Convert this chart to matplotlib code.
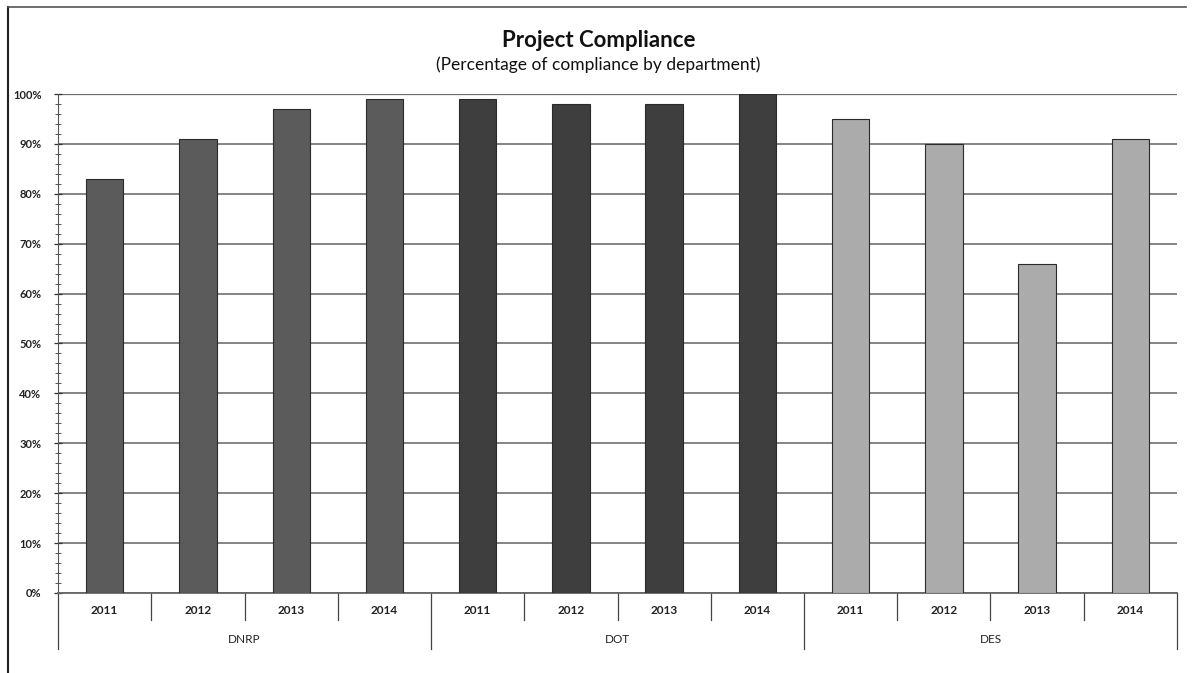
import matplotlib
matplotlib.use("Agg")
import matplotlib.pyplot as plt
import matplotlib.transforms as mtransforms
from matplotlib.ticker import MultipleLocator, FuncFormatter
import numpy as np

departments = ["DNRP", "DOT", "DES"]
years = ["2011", "2012", "2013", "2014"]
dnrp = [83, 91, 97, 99]
dot = [99, 98, 98, 100]
des = [95, 90, 66, 91]
dept_colors = ["#5b5b5b", "#3e3e3e", "#ababab"]

plt.rcParams['font.family'] = ['Lato', 'DejaVu Sans']

fig = plt.figure(figsize=(11.92, 6.73), dpi=100)
ax = fig.add_axes([0.0487, 0.1189, 0.9387, 0.7414])

values = [dnrp, dot, des]
n_years = len(years)
for d, (dept, vals) in enumerate(zip(departments, values)):
    xs = np.arange(n_years) + d * n_years
    ax.bar(xs, vals, width=0.4, color=dept_colors[d], edgecolor="#2a2a2a",
           linewidth=0.8, zorder=3)

n_cat = len(departments) * n_years
ax.set_xlim(-0.5, n_cat - 0.5)
ax.set_ylim(0, 100)
ax.yaxis.set_major_locator(MultipleLocator(10))
ax.yaxis.set_minor_locator(MultipleLocator(2))
ax.yaxis.set_major_formatter(FuncFormatter(lambda v, p: f"{int(v)}%"))
ax.tick_params(axis='y', which='major', direction='inout', length=6, width=0.9,
               labelsize=8, pad=9, colors="#333333")
ax.tick_params(axis='y', which='minor', direction='inout', length=4, width=0.7,
               colors="#555555")
for lbl in ax.get_yticklabels():
    lbl.set_fontweight('bold')
    lbl.set_color("#222222")
ax.set_xticks([])
ax.grid(axis='y', color="#707070", linewidth=1.2, zorder=0)
for s in ['top', 'right']:
    ax.spines[s].set_visible(False)
ax.spines['left'].set_color("#555555")
ax.spines['bottom'].set_color("#666666")
ax.spines['bottom'].set_linewidth(1.3)
ax.axhline(100, color="#555555", linewidth=1.6, zorder=1)

trans = mtransforms.blended_transform_factory(ax.transData, ax.transAxes)
for i in range(n_cat + 1):
    xb = i - 0.5
    if i % n_years == 0:
        ax.plot([xb, xb], [0, -0.112], transform=trans, color="#444444",
                linewidth=0.9, clip_on=False)
    else:
        ax.plot([xb, xb], [0, -0.054], transform=trans, color="#444444",
                linewidth=0.9, clip_on=False)
for i in range(n_cat):
    ax.text(i, -0.036, years[i % n_years], transform=trans, ha='center',
            va='center', fontsize=8.5, fontweight='bold', color="#222222")
for d, dept in enumerate(departments):
    ax.text(d * n_years + (n_years - 1) / 2, -0.094, dept, transform=trans,
            ha='center', va='center', fontsize=8.5, color="#222222")

fig.text(0.502, 0.94, "Project Compliance", ha='center', va='center',
         fontsize=16, fontweight='bold', color="#111111")
fig.text(0.502, 0.904, "(Percentage of compliance by department)", ha='center',
         va='center', fontsize=12.5, color="#111111")

fig.add_artist(plt.Line2D([0.0065, 0.0065], [0, 0.99], color="#222222", linewidth=1.5))
fig.add_artist(plt.Line2D([0.0065, 0.995], [0.99, 0.99], color="#555555", linewidth=1.2))

fig.savefig("out.png", dpi=100)
